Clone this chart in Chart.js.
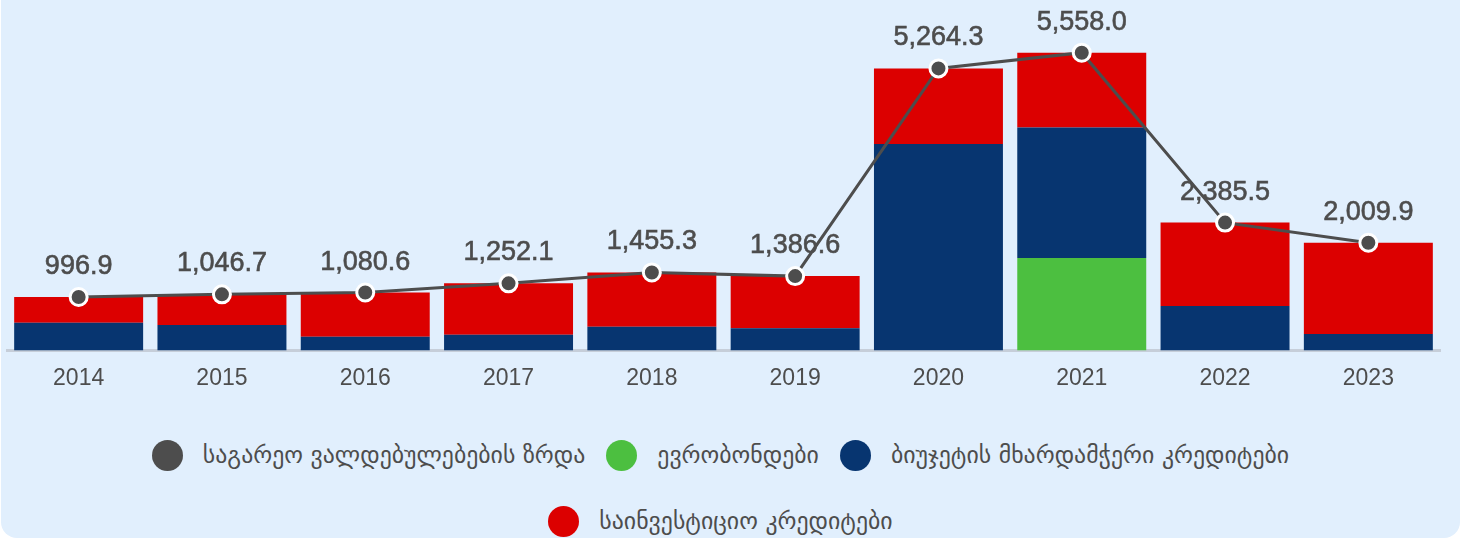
<!DOCTYPE html>
<html>
<head>
<meta charset="utf-8">
<script src="https://cdn.jsdelivr.net/npm/chart.js@4/dist/chart.umd.min.js"></script>
<style>
    html, body { margin: 0; padding: 0; background: #ffffff; }
    .card {
        position: absolute; left: 1px; top: 0; width: 1459px; height: 538px;
        background: #e1effd;
        border-radius: 0 0 16px 16px;
        overflow: hidden;
    }
    .chart-box { position: absolute; left: 0; top: 0; width: 1459px; height: 409px; }
    .legend {
        position: absolute; left: -10px; top: 439px; width: 1459px;
        display: flex; justify-content: center;
        font-family: "DejaVu Sans", sans-serif; font-size: 23.8px; color: #4d4d4d;
    }
    .legend-wrap { width: 1300px; display: flex; flex-wrap: wrap; justify-content: center; row-gap: 34px; column-gap: 21px; }
    .legend-item { display: flex; align-items: center; height: 32px; white-space: nowrap; }
    .legend-swatch { width: 31px; height: 31px; border-radius: 50%; margin-right: 20px; flex: none; }
</style>
</head>
<body>
<div class="card">
  <div class="chart-box"><canvas id="debt-chart"></canvas></div>
  <div class="legend"><div class="legend-wrap" id="debt-legend"></div></div>
</div>
<script>
const YEARS = ['2014','2015','2016','2017','2018','2019','2020','2021','2022','2023'];

// მლნ აშშ დოლარი
const TOTAL_GROWTH   = [996.9, 1046.7, 1080.6, 1252.1, 1455.3, 1386.6, 5264.3, 5558.0, 2385.5, 2009.9];
const EUROBONDS      = [0, 0, 0, 0, 0, 0, 0, 1727, 0, 0];
const BUDGET_SUPPORT = [517, 474, 255, 293, 443, 412, 3855, 2432, 829, 305];
const INVESTMENT     = [480, 573, 826, 959, 1012, 975, 1409, 1399, 1557, 1705];

const SERIES_NAMES = [
    'საგარეო ვალდებულებების ზრდა',
    'ევრობონდები',
    'ბიუჯეტის მხარდამჭერი კრედიტები',
    'საინვესტიციო კრედიტები',
];

const COLORS = {
    line:   '#4d4d4d',
    euro:   '#4cbf40',
    budget: '#073570',
    invest: '#dc0000',
};

// values above line points, drawn before datasets so the line crosses them
const pointLabels = {
    id: 'pointLabels',
    beforeDatasetsDraw(chart) {
        const meta = chart.getDatasetMeta(0);
        const ctx = chart.ctx;
        ctx.save();
        ctx.font = '27px "Liberation Sans", Arial, sans-serif';
        ctx.fillStyle = '#4d4d4d';
        ctx.strokeStyle = '#4d4d4d';
        ctx.lineWidth = 0.6;
        ctx.textAlign = 'center';
        ctx.textBaseline = 'alphabetic';
        meta.data.forEach((pt, i) => {
            const v = chart.data.datasets[0].data[i];
            const txt = v.toLocaleString('en-US', { minimumFractionDigits: 1, maximumFractionDigits: 1 });
            ctx.fillText(txt, pt.x, pt.y - 23);
            ctx.strokeText(txt, pt.x, pt.y - 23);
        });
        ctx.restore();
    },
};

const chart = new Chart(document.getElementById('debt-chart'), {
    type: 'bar',
    data: {
        labels: YEARS,
        datasets: [
            {
                type: 'line',
                label: SERIES_NAMES[0],
                data: TOTAL_GROWTH,
                stack: 'total',
                order: 0,
                borderColor: COLORS.line,
                backgroundColor: COLORS.line,
                borderWidth: 3,
                pointRadius: 8.5,
                pointBorderWidth: 3,
                pointBorderColor: '#ffffff',
                pointBackgroundColor: COLORS.line,
                tension: 0,
            },
            { label: SERIES_NAMES[1], data: EUROBONDS,      backgroundColor: COLORS.euro,   stack: 'debt', order: 1 },
            { label: SERIES_NAMES[2], data: BUDGET_SUPPORT, backgroundColor: COLORS.budget, stack: 'debt', order: 1 },
            { label: SERIES_NAMES[3], data: INVESTMENT,     backgroundColor: COLORS.invest, stack: 'debt', order: 1 },
        ],
    },
    options: {
        responsive: true,
        maintainAspectRatio: false,
        animation: false,
        layout: { autoPadding: false, padding: { left: 6, right: 20, top: 29, bottom: 11 } },
        datasets: {
            bar: { barPercentage: 1, categoryPercentage: 0.9, borderWidth: 0 },
        },
        scales: {
            x: {
                stacked: true,
                grid: { display: false },
                border: { display: true, color: '#c6ced9', width: 3 },
                ticks: {
                    color: '#4d4d4d',
                    padding: 6,
                    font: { family: '"Liberation Sans", Arial, sans-serif', size: 23 },
                },
            },
            y: {
                stacked: true,
                display: false,
                min: 0,
                max: 6000,
            },
        },
        plugins: {
            legend: { display: false },
            tooltip: { enabled: false },
        },
    },
    plugins: [pointLabels],
});

// legend
const legend = document.getElementById('debt-legend');
legend.innerHTML = chart.data.datasets.map(ds => `
    <div class="legend-item">
      <span class="legend-swatch" style="background:${ds.type === 'line' ? ds.borderColor : ds.backgroundColor}"></span>
      <span class="legend-label">${ds.label}</span>
    </div>
`).join('');
</script>
</body>
</html>
